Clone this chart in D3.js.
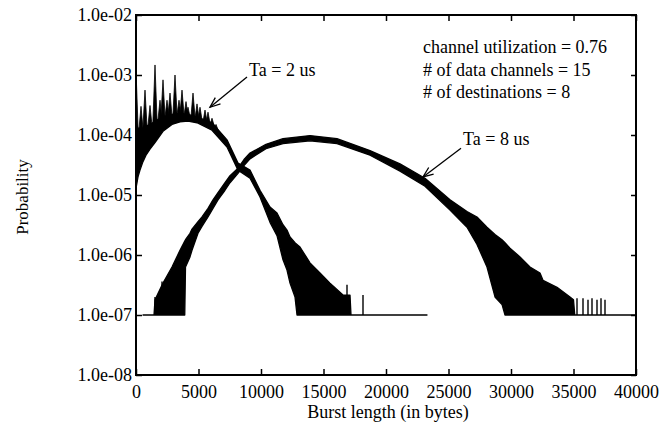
<!DOCTYPE html>
<html><head><meta charset="utf-8">
<script src="https://cdn.jsdelivr.net/npm/d3@7/dist/d3.min.js"></script>
<style>body{margin:0;background:#fff}text{font-family:"Liberation Serif","Times New Roman",serif;fill:#000}</style>
</head><body><svg id="c" width="660" height="433"></svg>
<script>
// ---- data ----
const xTicks = [0,5000,10000,15000,20000,25000,30000,35000,40000];
const yTicks = [1e-8,1e-7,1e-6,1e-5,1e-4,1e-3,1e-2];
const yTickLabels = ["1.0e-08","1.0e-07","1.0e-06","1.0e-05","1.0e-04","1.0e-03","1.0e-02"];

// Ta = 2 us : band envelope (x bytes, lower prob, upper prob)
const ta2X  = [0,     80,    160,   320,   560,   800,   1120,  1520,  2160,  2880,  3520,  4160,  4880,  6080,  7280,  8160,  9120,  9920,  10720, 11280, 11760, 12080, 12320, 12720, 12880, 13120, 13920, 14720, 15520, 16560, 17120, 17200, 23280];
const ta2Lo = [1.3e-5,1.6e-5,2.0e-5,2.6e-5,3.6e-5,4.6e-5,5.8e-5,7.5e-5,1.15e-4,1.5e-4,1.65e-4,1.7e-4,1.6e-4,1.2e-4,6.3e-5,2.6e-5,1.9e-5,9.3e-6,3.5e-6,2.1e-6,8.3e-7,5.6e-7,3.4e-7,2.0e-7,1e-7,  1e-7,  1e-7,  1e-7,  1e-7,  1e-7,  1e-7,  1e-7,  1e-7];
const ta2Hi = [1.3e-4,1.3e-4,1.3e-4,1.3e-4,1.3e-4,1.4e-4,1.5e-4,1.7e-4,2.0e-4, 2.2e-4,2.3e-4, 2.2e-4,2.0e-4,1.6e-4,8.3e-5,3.4e-5,2.6e-5,1.2e-5,6.3e-6,5.0e-6,3.2e-6,2.6e-6,2.0e-6,1.6e-6,1.5e-6,1.36e-6,7.4e-7,5.0e-7,3.4e-7,2.15e-7,2.15e-7,1e-7,1e-7];
// Ta = 2 us : spikes rising above the band near the peak (x bytes, peak prob)
const ta2SpikeX = [0,     400,   720,   1120,  1520,  1920,  2160,  2480,  2720,  3120,  3440,  3680,  4000,  4160,  4560,  4880,  5120,  5520,  5760,  6080,  6400,  6720];
const ta2SpikeP = [1.2e-3,3.0e-4,5.6e-4,3.1e-4,1.47e-3,3.8e-4,8.3e-4,3.8e-4,5.0e-4,1.0e-3,3.8e-4,5.6e-4,3.6e-4,2.9e-4,5.0e-4,3.3e-4,2.9e-4,2.6e-4,2.4e-4,1.9e-4,1.5e-4,1.1e-4];
// Ta = 2 us : isolated spikes in the tail above the 1e-7 floor
const ta2TailX = [14480, 15520, 16880, 18160];
const ta2TailP = [5.6e-7,3.4e-7,3.2e-7,2.15e-7];

// Ta = 8 us : band envelope
const ta8X  = [560,  1440, 1520,  2160,  2880,  3520,  3900,  3960,  4320,  4480,  4960,  5280,  5760,  6160,  6560,  7120,  7520,  8160,  8640,  9120,  10400, 11760, 13920, 16080, 18720, 21120, 23120, 25120, 26480, 27280, 28080, 28720, 29280, 29520, 29920, 30720, 31520, 32320, 32560, 33680, 34720, 35000, 35100, 40000];
const ta8Lo = [1e-7, 1e-7, 1e-7,  1e-7,  1e-7,  1e-7,  1e-7,  6.3e-7,9.3e-7,1.2e-6,2.3e-6,3.0e-6,4.3e-6,6.0e-6,8.3e-6,1.2e-5,1.6e-5,2.3e-5,3.1e-5,4.0e-5,5.9e-5,7.2e-5,8.0e-5,7.2e-5,4.6e-5,2.5e-5,1.4e-5,5.6e-6,2.9e-6,1.5e-6,6.3e-7,2.0e-7,1.5e-7,1e-7,  1e-7,  1e-7,  1e-7,  1e-7,  1e-7,  1e-7,  1e-7,  1e-7,  1e-7,  1e-7];
const ta8Hi = [1e-7, 1e-7, 1.8e-7,3.4e-7,6.3e-7,1.2e-6,1.7e-6,1.8e-6,2.3e-6,2.7e-6,3.6e-6,4.3e-6,6.0e-6,8.3e-6,1.1e-5,1.6e-5,2.1e-5,2.8e-5,3.9e-5,5.0e-5,7.0e-5,8.7e-5,9.8e-5,8.7e-5,5.5e-5,3.3e-5,1.9e-5,8.3e-6,5.3e-6,4.3e-6,2.9e-6,2.2e-6,1.8e-6,1.6e-6,1.3e-6,9.3e-7,6.3e-7,5.0e-7,3.8e-7,2.9e-7,2.0e-7,1.8e-7,1e-7,  1e-7];
// Ta = 8 us : isolated spikes in the tails
const ta8SpikeX = [1520, 2080, 35280, 35760, 36160, 36480, 36880, 37200, 37520];
const ta8SpikeP = [2.0e-7,3.6e-7,1.9e-7,1.9e-7,1.8e-7,1.9e-7,1.8e-7,1.9e-7,1.8e-7];

const infoLines = ["channel utilization = 0.76", "# of data channels = 15", "# of destinations = 8"];

// ---- layout ----
const svg = d3.select("#c");
const L = 136, R = 636, T = 15, B = 375;
const x = d3.scaleLinear().domain([0, 40000]).range([L, R]);
const y = d3.scaleLog().domain([1e-8, 1e-2]).range([B, T]);

function band(X, Lo, Hi) { return X.map((v, i) => ({x: v, lo: Lo[i], hi: Hi[i]})); }
const area = d3.area().x(d => x(d.x)).y0(d => y(d.lo)).y1(d => y(d.hi));

const g = svg.append("g");
[band(ta2X, ta2Lo, ta2Hi), band(ta8X, ta8Lo, ta8Hi)].forEach(b => {
  g.append("path").attr("d", area(b)).attr("fill", "#000").attr("stroke", "#000")
   .attr("stroke-width", 1.3).attr("stroke-linejoin", "round");
});
const interpLog = (X, V) => xv => {
  let i = d3.bisectRight(X, xv) - 1; i = Math.max(0, Math.min(X.length - 2, i));
  const t = (xv - X[i]) / (X[i+1] - X[i]);
  return Math.pow(10, Math.log10(V[i]) * (1 - t) + Math.log10(V[i+1]) * t);
};
// peak spikes drawn as narrow triangles standing on the band
const hiAt = interpLog(ta2X, ta2Hi);
g.selectAll(null).data(ta2SpikeX.map((v, i) => ({x: v, p: ta2SpikeP[i]}))).join("path")
  .attr("d", d => {
    const cx = x(d.x), by = y(hiAt(d.x)) + 3, ty = y(d.p);
    return `M${Math.max(L, cx - 2.2)},${by}L${cx},${ty}L${cx + 2.2},${by}Z`;
  }).attr("fill", "#000").attr("stroke", "#000").attr("stroke-width", 0.8);
function tailSpikes(X, P) {
  g.selectAll(null).data(X.map((v, i) => ({x: v, p: P[i]}))).join("line")
    .attr("x1", d => x(d.x)).attr("x2", d => x(d.x))
    .attr("y1", y(1e-7)).attr("y2", d => y(d.p))
    .attr("stroke", "#000").attr("stroke-width", 1.4);
}
tailSpikes(ta2TailX, ta2TailP);
tailSpikes(ta8SpikeX, ta8SpikeP);

// ---- axes / frame ----
const fs = 18;
const ax = svg.append("g");
ax.append("rect").attr("x", L).attr("y", T).attr("width", R - L).attr("height", B - T)
  .attr("fill", "none").attr("stroke", "#000").attr("stroke-width", 2);
const axB = ax.append("g").attr("transform", `translate(0,${B})`)
  .call(d3.axisBottom(x).tickValues(xTicks).tickSize(-6).tickPadding(10).tickFormat(d3.format("d")));
const axT = ax.append("g").attr("transform", `translate(0,${T})`)
  .call(d3.axisTop(x).tickValues(xTicks).tickSize(-6).tickFormat(""));
const axL = ax.append("g").attr("transform", `translate(${L},0)`)
  .call(d3.axisLeft(y).tickValues(yTicks).tickSize(-6).tickPadding(4).tickFormat((d, i) => yTickLabels[i]));
const axR = ax.append("g").attr("transform", `translate(${R},0)`)
  .call(d3.axisRight(y).tickValues(yTicks).tickSize(-5).tickFormat(""));
[axB, axT, axL, axR].forEach(a => {
  a.select(".domain").remove();
  a.selectAll(".tick line").attr("stroke", "#000").attr("stroke-width", 1.5);
  a.selectAll("text").style("font-family", '"Liberation Serif",serif').style("font-size", fs + "px").attr("fill", "#000");
});

svg.append("text").attr("x", 388).attr("y", 418).attr("text-anchor", "middle")
  .style("font-size", "18px").text("Burst length (in bytes)");
svg.append("text").attr("transform", `translate(28,${(T + B) / 2 + 2}) rotate(-90)`).attr("text-anchor", "middle")
  .style("font-size", "17px").text("Probability");

// ---- annotations ----
infoLines.forEach((t, i) => {
  svg.append("text").attr("x", x(22960)).attr("y", 53 + i * 22.5).style("font-size", "18px").text(t);
});
svg.append("text").attr("x", x(9040)).attr("y", y(1e-3) + 1).style("font-size", "18px").text("Ta = 2 us");
svg.append("text").attr("x", x(26160)).attr("y", y(6.8e-5)).style("font-size", "18px").text("Ta = 8 us");

function arrow(x1, p1, x2, p2) {
  const X1 = x(x1), Y1 = y(p1), X2 = x(x2), Y2 = y(p2);
  const a = Math.atan2(Y2 - Y1, X2 - X1), h = 11, w = 0.38;
  svg.append("line").attr("x1", X1).attr("y1", Y1).attr("x2", X2).attr("y2", Y2).attr("stroke", "#000").attr("stroke-width", 1.3);
  svg.append("path").attr("d", `M${X2 - h*Math.cos(a - w)},${Y2 - h*Math.sin(a - w)}L${X2},${Y2}L${X2 - h*Math.cos(a + w)},${Y2 - h*Math.sin(a + w)}`)
    .attr("fill", "none").attr("stroke", "#000").attr("stroke-width", 1.3);
}
arrow(8880, 9.3e-4, 5920, 2.9e-4);
arrow(26000, 6.0e-5, 22960, 2.0e-5);
</script></body></html>
